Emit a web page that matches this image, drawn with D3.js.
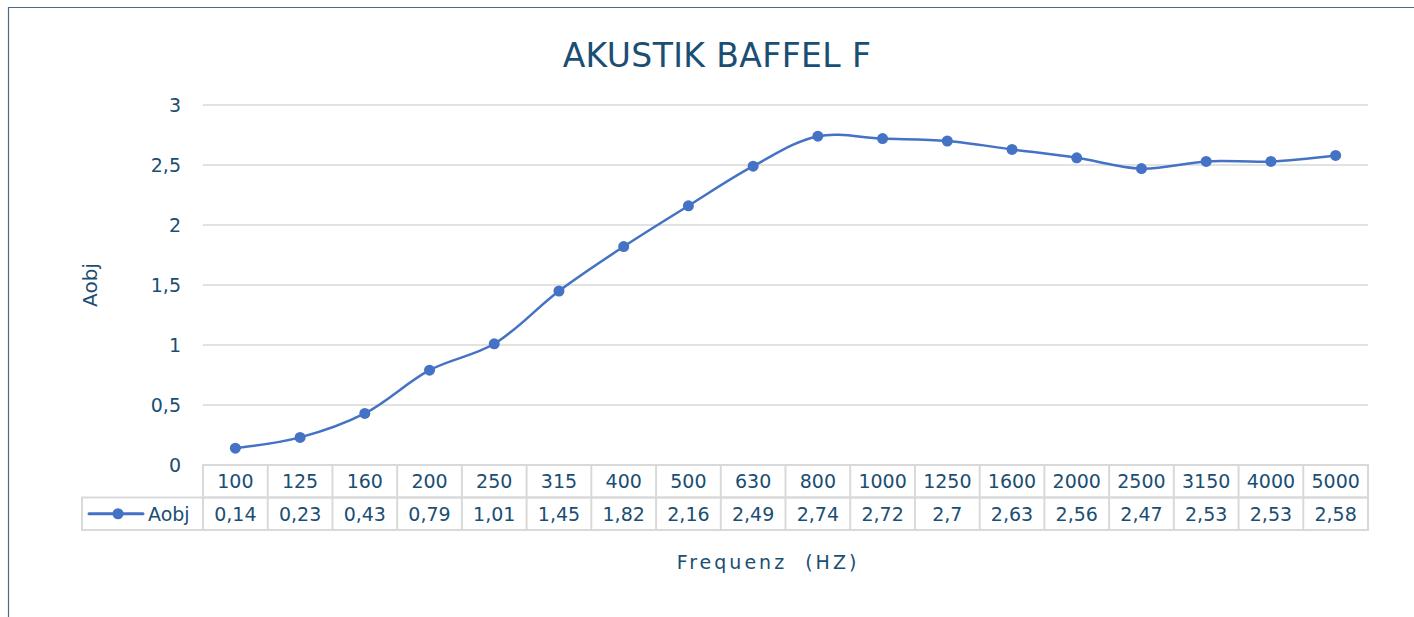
<!DOCTYPE html>
<meta charset="utf-8">
<style>
body { margin: 0; background: #fff; }
text { font-family: "DejaVu Sans", sans-serif; fill: #1a4e73; }
</style>
<svg width="1414" height="617"></svg>
<script src="https://d3js.org/d3.v7.min.js"></script>
<script>

let freqs = ['100', '125', '160', '200', '250', '315', '400', '500', '630', '800',
  '1000', '1250', '1600', '2000', '2500', '3150', '4000', '5000'];
let aobj = [0.14, 0.23, 0.43, 0.79, 1.01, 1.45, 1.82, 2.16, 2.49, 2.74,
  2.72, 2.7, 2.63, 2.56, 2.47, 2.53, 2.53, 2.58];
let yTicks = [0, 0.5, 1, 1.5, 2, 2.5, 3];

let svg = d3.select('svg');
let plotLeft = 203, plotRight = 1368, plotTop = 105, plotBottom = 465;
let rowH = 32.5;
let legendLeft = 82;
let fmt = d => String(d).replace('.', ',');

// chart frame
svg.append('path')
    .attr('d', 'M8.5,617 V7.5 H1414')
    .attr('fill', 'none')
    .attr('stroke', '#4d6a84')
    .attr('stroke-width', 1.2);

let x = d3.scaleBand().domain(freqs).range([plotLeft, plotRight]);
let y = d3.scaleLinear().domain([0, 3]).range([plotBottom, plotTop]);

// gridlines
svg.append('g').selectAll('line')
  .data(yTicks.filter(d => d > 0))
  .join('line')
    .attr('x1', plotLeft).attr('x2', plotRight)
    .attr('y1', d => y(d)).attr('y2', d => y(d))
    .attr('stroke', '#d9d9d9').attr('stroke-width', 1.5);

// y tick labels
svg.append('g').selectAll('text')
  .data(yTicks)
  .join('text')
    .attr('x', 181)
    .attr('y', d => y(d))
    .attr('dy', '0.35em')
    .attr('text-anchor', 'end')
    .style('font-size', '19px')
    .text(fmt);

// title
svg.append('text')
    .attr('x', 717).attr('y', 67)
    .attr('text-anchor', 'middle')
    .style('font-size', '33px')
    .style('letter-spacing', '0.4px')
    .text('AKUSTIK BAFFEL F');

// axis titles
svg.append('text')
    .attr('transform', 'translate(97,285) rotate(-90)')
    .attr('text-anchor', 'middle')
    .style('font-size', '20px')
    .text('Aobj');

svg.append('text')
    .attr('x', 768).attr('y', 569)
    .attr('text-anchor', 'middle')
    .style('font-size', '19px')
    .style('letter-spacing', '3px')
    .style('white-space', 'pre')
    .text('Frequenz  (HZ)');

// data table
let tbl = svg.append('g');
let gridColor = '#d9d9d9';
tbl.append('rect')
    .attr('x', plotLeft).attr('y', plotBottom)
    .attr('width', plotRight - plotLeft).attr('height', rowH)
    .attr('fill', 'none').attr('stroke', gridColor).attr('stroke-width', 2);
tbl.append('rect')
    .attr('x', legendLeft).attr('y', plotBottom + rowH)
    .attr('width', plotRight - legendLeft).attr('height', rowH)
    .attr('fill', 'none').attr('stroke', gridColor).attr('stroke-width', 2);
tbl.selectAll('line.col')
  .data(freqs)
  .join('line')
    .attr('class', 'col')
    .attr('x1', d => x(d)).attr('x2', d => x(d))
    .attr('y1', plotBottom).attr('y2', plotBottom + 2 * rowH)
    .attr('stroke', gridColor).attr('stroke-width', 2);

tbl.selectAll('text.freq')
  .data(freqs)
  .join('text')
    .attr('class', 'freq')
    .attr('x', d => x(d) + x.bandwidth() / 2)
    .attr('y', plotBottom + rowH / 2)
    .attr('dy', '0.36em')
    .attr('text-anchor', 'middle')
    .style('font-size', '19px')
    .text(d => d);

tbl.selectAll('text.val')
  .data(aobj)
  .join('text')
    .attr('class', 'val')
    .attr('x', (d, i) => x(freqs[i]) + x.bandwidth() / 2)
    .attr('y', plotBottom + rowH * 1.5)
    .attr('dy', '0.36em')
    .attr('text-anchor', 'middle')
    .style('font-size', '19px')
    .text(fmt);

// legend key in table
let ly = plotBottom + rowH * 1.5;
tbl.append('line')
    .attr('x1', 89).attr('x2', 143).attr('y1', ly).attr('y2', ly)
    .attr('stroke', '#4472c4').attr('stroke-width', 3).attr('stroke-linecap', 'round');
tbl.append('circle')
    .attr('cx', 118).attr('cy', ly).attr('r', 5.5).attr('fill', '#4472c4');
tbl.append('text')
    .attr('x', 148).attr('y', ly).attr('dy', '0.36em')
    .style('font-size', '19px')
    .text('Aobj');

// series
let line = d3.line()
    .x((d, i) => x(freqs[i]) + x.bandwidth() / 2)
    .y(d => y(d))
    .curve(d3.curveCatmullRom.alpha(0.5));

svg.append('path')
    .datum(aobj)
    .attr('d', line)
    .attr('fill', 'none')
    .attr('stroke', '#4472c4')
    .attr('stroke-width', 2.5);

svg.append('g').selectAll('circle')
  .data(aobj)
  .join('circle')
    .attr('cx', (d, i) => x(freqs[i]) + x.bandwidth() / 2)
    .attr('cy', d => y(d))
    .attr('r', 5.5)
    .attr('fill', '#4472c4');

</script>
